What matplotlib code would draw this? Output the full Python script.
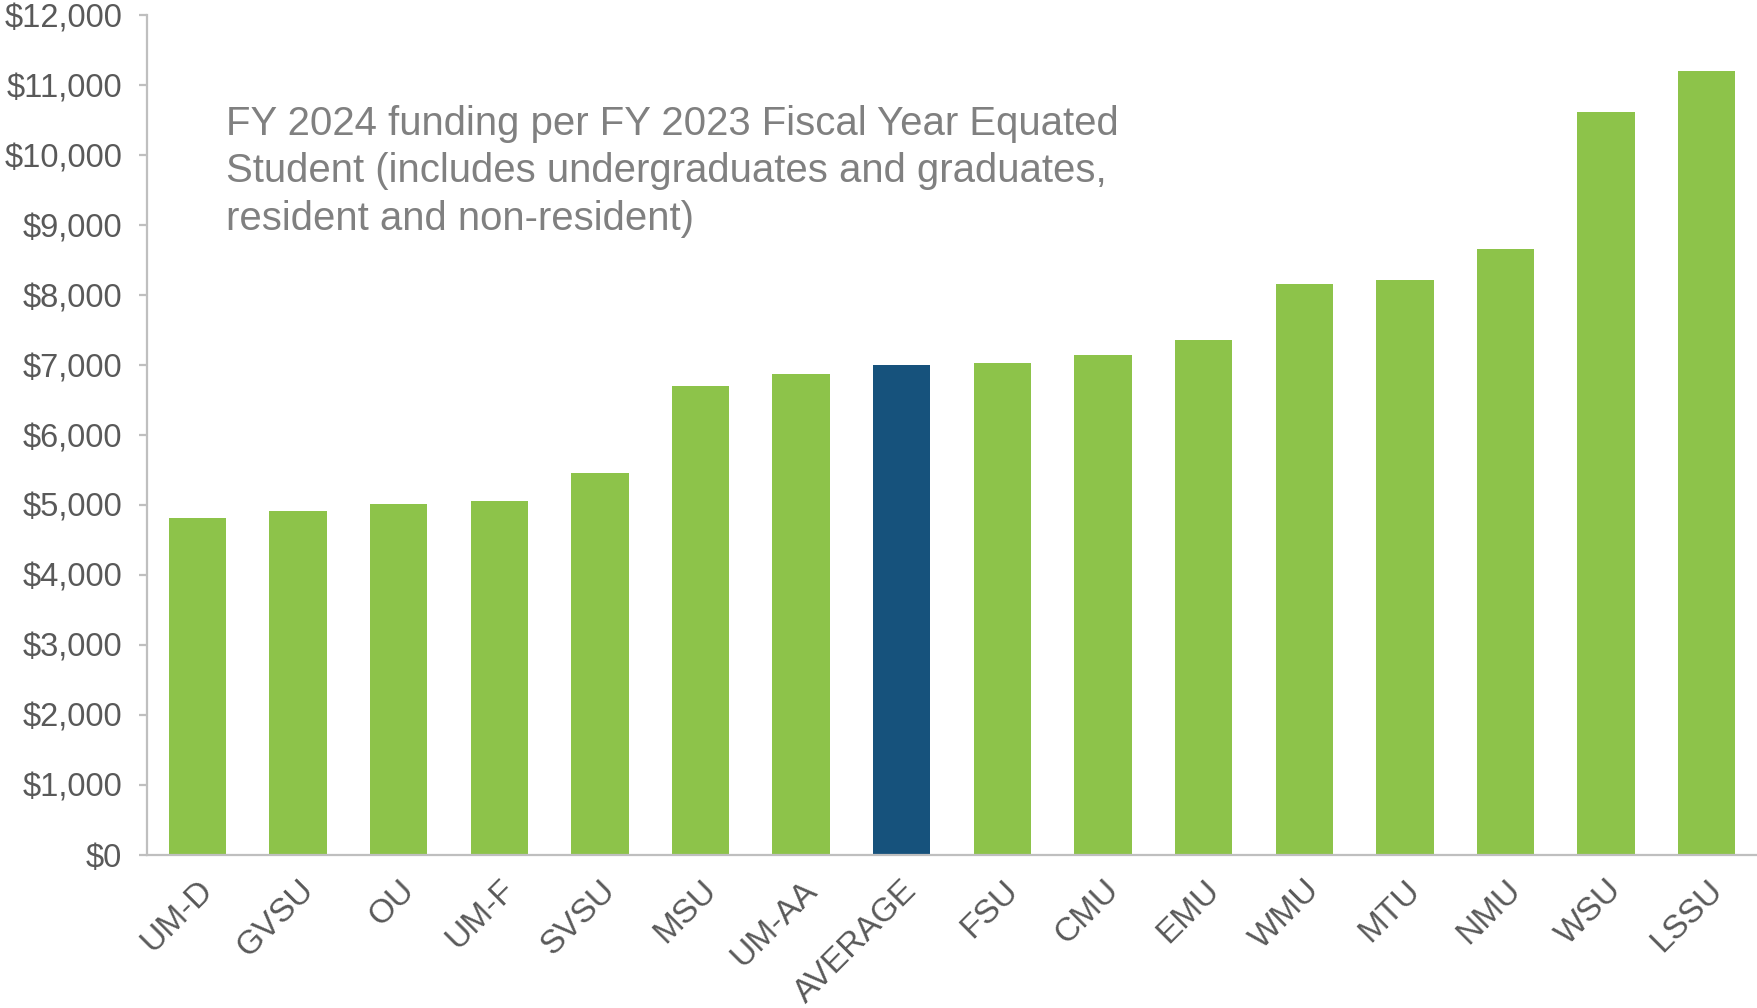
import matplotlib
matplotlib.use("Agg")
import matplotlib.pyplot as plt
import matplotlib.transforms as mtransforms
from matplotlib.ticker import FuncFormatter

# FY 2024 funding per FYES, by university
schools = ["UM-D", "GVSU", "OU", "UM-F", "SVSU", "MSU", "UM-AA", "AVERAGE",
           "FSU", "CMU", "EMU", "WMU", "MTU", "NMU", "WSU", "LSSU"]
funding = [4810, 4915, 5010, 5050, 5460, 6705, 6870, 7005,
           7035, 7140, 7360, 8155, 8215, 8655, 10615, 11205]

green = "#8DC34A"
navy = "#16527C"
grey_axis = "#BFBFBF"
grey_text = "#595959"

plt.rcParams["font.family"] = ["Liberation Sans", "DejaVu Sans"]

fig = plt.figure(figsize=(17.57, 10.08), dpi=100)
ax = fig.add_axes([0.0837, 0.1518, 0.9163, 0.8333])

colors = [navy if s == "AVERAGE" else green for s in schools]
ax.bar(range(len(schools)), funding, width=0.57, color=colors)

ax.set_xlim(-0.5, len(schools) - 0.5)
ax.set_ylim(0, 12000)
ax.set_yticks(range(0, 12001, 1000))
ax.yaxis.set_major_formatter(FuncFormatter(lambda v, p: f"${v:,.0f}"))

ax.set_xticks(range(len(schools)))
ax.set_xticklabels(schools, rotation=45, ha="right", va="top",
                   rotation_mode="anchor")
# nudge the slanted labels a little to the left
shift = mtransforms.ScaledTranslation(-8 / 100, 0, fig.dpi_scale_trans)
for lbl in ax.get_xticklabels():
    lbl.set_transform(lbl.get_transform() + shift)

for side in ["top", "right"]:
    ax.spines[side].set_visible(False)
for side in ["left", "bottom"]:
    ax.spines[side].set_color(grey_axis)
    ax.spines[side].set_linewidth(1.6)

ax.tick_params(axis="y", length=6, width=1.6, color=grey_axis, pad=12,
               labelsize=23.5, labelcolor=grey_text)
ax.tick_params(axis="x", length=0, pad=14, labelsize=24, labelcolor=grey_text)

ax.text(0.0488, 0.893,
        "FY 2024 funding per FY 2023 Fiscal Year Equated\n"
        "Student (includes undergraduates and graduates,\n"
        "resident and non-resident)",
        transform=ax.transAxes, fontsize=28.9, color="#808080",
        va="top", ha="left", linespacing=1.32)

fig.savefig("out.png", dpi=100)
